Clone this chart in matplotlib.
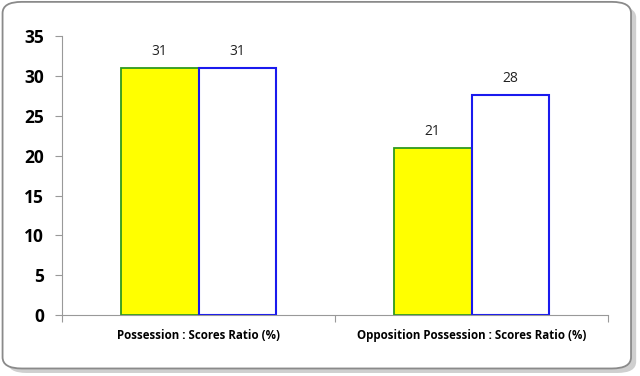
import matplotlib
matplotlib.use("Agg")
import matplotlib.pyplot as plt
from matplotlib.patches import FancyBboxPatch
import numpy as np

categories = ["Possession : Scores Ratio (%)", "Opposition Possession : Scores Ratio (%)"]
series_a = [31, 21]
series_b = [31, 27.6]
y_ticks = [0, 5, 10, 15, 20, 25, 30, 35]

fig = plt.figure(figsize=(6.4, 3.76), dpi=100)
fig.patch.set_facecolor("white")

# rounded frame with soft shadow (behind the axes)
shadow = FancyBboxPatch((0.012, 0.008), 0.982, 0.975, boxstyle="round,pad=0,rounding_size=0.03",
                        transform=fig.transFigure, facecolor="#b0b0b0", edgecolor="none", alpha=0.6, zorder=-2)
frame = FancyBboxPatch((0.004, 0.02), 0.982, 0.975, boxstyle="round,pad=0,rounding_size=0.03",
                       transform=fig.transFigure, facecolor="white", edgecolor="#8a8a8a", linewidth=1.3, zorder=-1)
fig.patches.extend([shadow, frame])

ax = fig.add_axes([0.097, 0.162, 0.853, 0.742])
ax.set_facecolor("none")

x = np.arange(len(categories))
w = 0.285
bars_a = ax.bar(x - w / 2, series_a, w, color="#ffff00", edgecolor="#2e9a1e", linewidth=1.3)
bars_b = ax.bar(x + w / 2, series_b, w, color="white", edgecolor="#1a1aee", linewidth=1.5)

for bars, vals in ((bars_a, series_a), (bars_b, series_b)):
    for b, v in zip(bars, vals):
        ax.text(b.get_x() + b.get_width() / 2, v + 1.1, "%.0f" % v, ha="center", va="bottom",
                fontsize=10, family="Open Sans", color="#222222")

ax.set_xlim(-0.5, 1.5)
ax.set_ylim(0, 35)
ax.set_yticks(y_ticks)
ax.set_yticklabels([str(t) for t in y_ticks], fontsize=12.5, fontweight="bold", family="Open Sans")
ax.set_xticks([-0.5, 0.5, 1.5])
ax.set_xticklabels([])
ax.set_xticks(x, minor=True)
ax.set_xticklabels(categories, minor=True, fontsize=8.3, fontweight="bold", family="Open Sans")
ax.tick_params(axis="x", which="minor", length=0, pad=10)
ax.tick_params(axis="x", which="major", length=5, color="#999999", direction="out")
ax.tick_params(axis="y", length=5, color="#999999", direction="out", pad=8)

for s in ("top", "right"):
    ax.spines[s].set_visible(False)
for s in ("left", "bottom"):
    ax.spines[s].set_color("#999999")

fig.savefig("out.png", dpi=100)
